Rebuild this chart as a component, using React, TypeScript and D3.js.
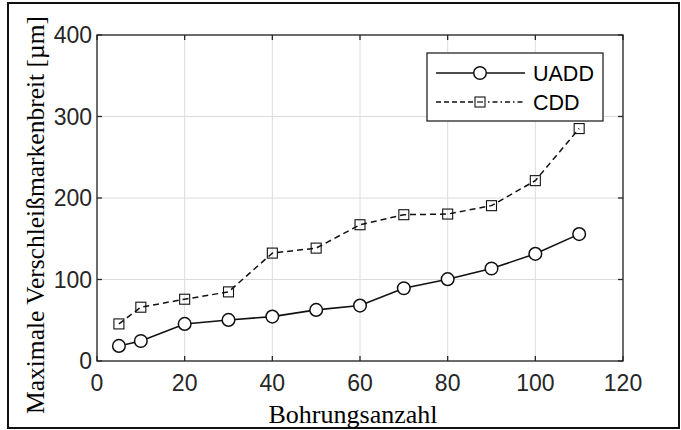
import React from 'react';
import * as d3 from 'd3';

const bohrungen = [5, 10, 20, 30, 40, 50, 60, 70, 80, 90, 100, 110];
const uadd = [18.5, 24.6, 45.5, 50.4, 54.5, 62.7, 68, 89.3, 100.4, 113.5, 131.5, 155.7];
const cdd = [45.5, 66, 75.8, 84.8, 132.4, 138.5, 167.2, 179.5, 180.3, 190.6, 221.3, 285.2];
const xTicks = [0, 20, 40, 60, 80, 100, 120];
const yTicks = [0, 100, 200, 300, 400];
const seriesNames = ['UADD', 'CDD'];

const W = 681;
const H = 430;
const left = 97;
const right = 623;
const top = 35;
const bottom = 361;

const sans = "'Liberation Sans', Arial, sans-serif";
const serif = "'Liberation Serif', 'Times New Roman', serif";
const axisColor = '#262626';

export default function App() {
  const x = d3.scaleLinear().domain([0, 120]).range([left, right]);
  const y = d3.scaleLinear().domain([0, 400]).range([bottom, top]);

  const line = d3
    .line<number>()
    .x((_, i) => x(bohrungen[i]))
    .y(d => y(d));

  const tick = 5;
  const sq = 10;

  return (
    <svg
      width={W}
      height={H}
      style={{ position: 'fixed', left: 0, top: 0, background: '#fff' }}
    >
      <rect x={0} y={0} width={W} height={H} fill="#fff" />
      {/* outer frame */}
      <rect x={8} y={3} width={671} height={425} fill="none" stroke="#111" strokeWidth={2} />

      {/* grid */}
      {xTicks.map(t => (
        <line key={'gx' + t} x1={x(t)} x2={x(t)} y1={top} y2={bottom} stroke="#dcdcdc" strokeWidth={1} />
      ))}
      {yTicks.map(t => (
        <line key={'gy' + t} x1={left} x2={right} y1={y(t)} y2={y(t)} stroke="#dcdcdc" strokeWidth={1} />
      ))}

      {/* series */}
      <path d={line(cdd) || ''} fill="none" stroke="#111" strokeWidth={1.5} strokeDasharray="6,4" />
      <path d={line(uadd) || ''} fill="none" stroke="#111" strokeWidth={1.6} />

      {cdd.map((v, i) => (
        <rect
          key={'c' + i}
          x={x(bohrungen[i]) - sq / 2}
          y={y(v) - sq / 2}
          width={sq}
          height={sq}
          fill="none"
          stroke="#111"
          strokeWidth={1.1}
        />
      ))}
      {uadd.map((v, i) => (
        <circle key={'u' + i} cx={x(bohrungen[i])} cy={y(v)} r={6.3} fill="#fff" stroke="#111" strokeWidth={1.5} />
      ))}

      {/* axes box */}
      <rect x={left} y={top} width={right - left} height={bottom - top} fill="none" stroke={axisColor} strokeWidth={1.3} />
      {xTicks.map(t => (
        <g key={'tx' + t}>
          <line x1={x(t)} x2={x(t)} y1={bottom} y2={bottom - tick} stroke={axisColor} strokeWidth={1.3} />
          <line x1={x(t)} x2={x(t)} y1={top} y2={top + tick} stroke={axisColor} strokeWidth={1.3} />
          <text x={x(t)} y={391} textAnchor="middle" fontFamily={sans} fontSize={23} fill={axisColor}>
            {t}
          </text>
        </g>
      ))}
      {yTicks.map(t => (
        <g key={'ty' + t}>
          <line x1={left} x2={left + tick} y1={y(t)} y2={y(t)} stroke={axisColor} strokeWidth={1.3} />
          <line x1={right} x2={right - tick} y1={y(t)} y2={y(t)} stroke={axisColor} strokeWidth={1.3} />
          <text x={left - 5} y={y(t) + 8} textAnchor="end" fontFamily={sans} fontSize={23} fill={axisColor}>
            {t}
          </text>
        </g>
      ))}

      {/* axis labels */}
      <text x={353} y={423} textAnchor="middle" fontFamily={serif} fontSize={26} fill="#000">
        Bohrungsanzahl
      </text>
      <text
        transform="translate(44,215) rotate(-90)"
        textAnchor="middle"
        fontFamily={serif}
        fontSize={25.5}
        fill="#000"
      >
        Maximale Verschleißmarkenbreit [µm]
      </text>

      {/* legend */}
      <rect x={427} y={53} width={176} height={68} fill="#fff" stroke={axisColor} strokeWidth={1.3} />
      <line x1={436} x2={525} y1={73} y2={73} stroke="#111" strokeWidth={1.6} />
      <circle cx={480} cy={73} r={6.3} fill="#fff" stroke="#111" strokeWidth={1.5} />
      <text x={533} y={81} fontFamily={sans} fontSize={21.5} fill="#000">
        {seriesNames[0]}
      </text>
      <line x1={436} x2={480} y1={102} y2={102} stroke="#111" strokeWidth={1.5} strokeDasharray="5,3" />
      <line x1={480} x2={525} y1={102} y2={102} stroke="#111" strokeWidth={1.5} strokeDasharray="5,3,1.5,3" />
      <rect x={480 - sq / 2} y={102 - sq / 2} width={sq} height={sq} fill="#fff" stroke="#111" strokeWidth={1.1} />
      <line x1={477} x2={483} y1={102} y2={102} stroke="#111" strokeWidth={1.2} />
      <text x={533} y={110} fontFamily={sans} fontSize={21.5} fill="#000">
        {seriesNames[1]}
      </text>
    </svg>
  );
}
